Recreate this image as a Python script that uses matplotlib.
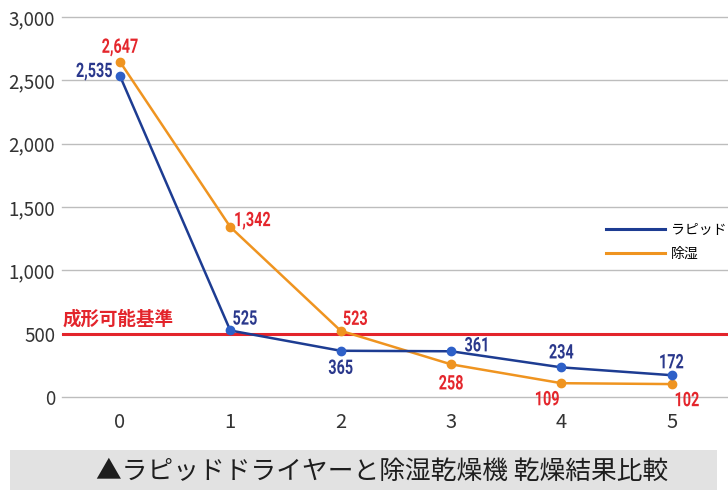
import matplotlib
matplotlib.use("Agg")
import matplotlib.pyplot as plt
from matplotlib.patches import Rectangle, PathPatch
from matplotlib.lines import Line2D
from matplotlib.textpath import TextPath
from matplotlib.font_manager import FontProperties
from matplotlib.transforms import Affine2D, ScaledTranslation

x = [0, 1, 2, 3, 4, 5]
rapid = [2535, 525, 365, 361, 234, 172]
dehum = [2647, 1342, 523, 258, 109, 102]
threshold = 500
series_names = ["ラピッド", "除湿"]
threshold_label = "成形可能基準"
caption = "▲ラピッドドライヤーと除湿乾燥機 乾燥結果比較"
yticks = [0, 500, 1000, 1500, 2000, 2500, 3000]

plt.rcParams['font.family'] = ['Noto Sans CJK JP', 'DejaVu Sans']

fig = plt.figure(figsize=(7.28, 4.90), dpi=100)
ax = fig.add_axes([62/728, 1-397/490, 1-62/728, (397-17)/490])

for s in ax.spines.values():
    s.set_visible(False)
ax.set_ylim(0, 3000)
ax.set_xlim(-0.525, 5.51)
ax.set_yticks(yticks)
ax.set_yticklabels([f"{v:,}" for v in yticks], fontsize=13.5, color="#333333")
ax.set_xticks(x)
ax.set_xticklabels([str(v) for v in x], fontsize=14.5, color="#333333")
ax.tick_params(axis='y', length=0, pad=5)
ax.tick_params(axis='x', length=0, pad=11)
ax.grid(axis='y', color="#bdbdbd", linewidth=1.0, clip_on=False)
ax.set_axisbelow(True)

red = "#e3242b"
ax.axhline(threshold, color=red, linewidth=2.2, zorder=2)
ax.annotate(threshold_label, (-0.525, threshold), xytext=(1, 5), textcoords='offset pixels',
            ha='left', va='bottom', color=red, fontsize=13.3, fontweight='bold')

blue_line = "#1d3c92"
blue_mk = "#2e60c8"
orange = "#ef9420"
ax.plot(x, rapid, color=blue_line, linewidth=1.8, marker='o', markersize=6,
        markerfacecolor=blue_mk, markeredgecolor=blue_mk, zorder=4, clip_on=False)
ax.plot(x, dehum, color=orange, linewidth=1.8, marker='o', markersize=6,
        markerfacecolor=orange, markeredgecolor=orange, zorder=3, clip_on=False)

label_fp = FontProperties(family='Roboto', weight='bold')


def cond_label(xv, yv, s, dx, dy, ha, color, size_px=20, sx=0.72):
    tp = TextPath((0, 0), s, size=size_px, prop=label_fp)
    bb = tp.get_extents()
    w = bb.width * sx
    digit_h = size_px * 0.71
    if ha == 'center':
        ox = -bb.x0 * sx - w / 2
    elif ha == 'left':
        ox = -bb.x0 * sx
    else:
        ox = -bb.x0 * sx - w
    oy = -digit_h / 2
    tr = (Affine2D().scale(sx, 1).translate(ox + dx, oy + dy)
          + ScaledTranslation(xv, yv, ax.transData))
    patch = PathPatch(tp, transform=tr, facecolor=color, edgecolor='none',
                      linewidth=0, zorder=6, clip_on=False)
    fig.add_artist(patch)


blue_txt = "#2a388c"
red_txt = "#e4262c"
rapid_off = [(-8, 6, 'right'), (3, 13, 'left'), (0, -16, 'center'),
             (14, 7, 'left'), (0, 16, 'center'), (0, 14, 'center')]
dehum_off = [(0, 16, 'center'), (5, 8, 'left'), (3, 13, 'left'),
             (0, -18, 'center'), (-14, -15, 'center'), (4, -15, 'left')]
for xi, v, (dx, dy, ha) in zip(x, rapid, rapid_off):
    cond_label(xi, v, f"{v:,}", dx, dy, ha, blue_txt)
for xi, v, (dx, dy, ha) in zip(x, dehum, dehum_off):
    cond_label(xi, v, f"{v:,}", dx, dy, ha, red_txt)

handles = [Line2D([], [], color=blue_line, linewidth=2.2),
           Line2D([], [], color=orange, linewidth=2.2)]
ax.legend(handles, series_names, loc='upper left', bbox_to_anchor=(593/728, 1-210/490),
          bbox_transform=fig.transFigure, frameon=False, fontsize=10, handlelength=4.3,
          handletextpad=0.4, labelspacing=0.75)

fig.patches.append(Rectangle((10/728, 0), 707/728, 40/490, transform=fig.transFigure,
                             facecolor="#e2e2e2", edgecolor='none', zorder=0))
fig.text(382/728, 1-472/490, caption, ha='center', va='center', fontsize=18.5, color="#1e1e1e")

fig.savefig("out.png", dpi=100, facecolor='white')
